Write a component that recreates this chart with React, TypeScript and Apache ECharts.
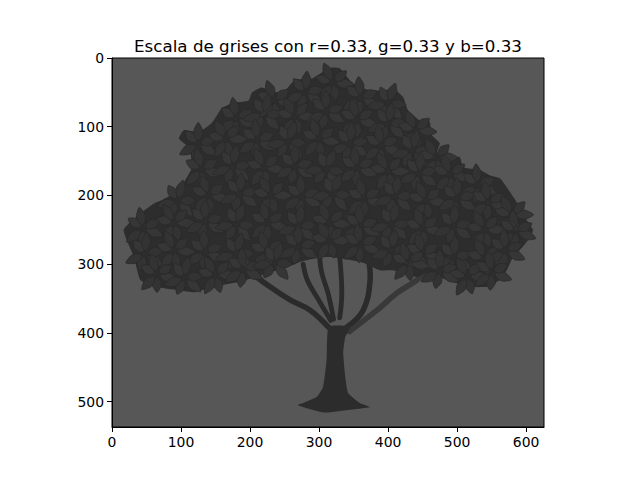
import React, { useEffect, useRef } from "react";
import * as echarts from "echarts";

const TITLE = "Escala de grises con r=0.33, g=0.33 y b=0.33";
const IMG_W = 626;
const IMG_H = 537;
const X_TICKS = [0, 100, 200, 300, 400, 500, 600];
const Y_TICKS = [0, 100, 200, 300, 400, 500];

// Canopy outline in image pixel coordinates (x, y)
const CANOPY: number[][] = [
  [17, 250], [48, 221], [62, 211], [72, 207], [97, 192], [106, 178], [116, 159],
  [112, 131], [97, 117], [104, 105], [126, 108], [145, 94], [159, 73], [174, 66],
  [198, 62], [203, 50], [217, 43], [236, 50], [251, 47], [265, 32], [290, 30],
  [309, 18], [319, 14], [330, 15], [349, 37], [374, 47], [398, 47], [407, 44],
  [422, 57], [429, 76], [446, 91], [461, 94], [461, 110], [475, 124], [471, 137],
  [494, 144], [504, 144], [509, 159], [533, 163], [548, 171], [562, 175],
  [572, 188], [591, 217], [601, 236], [610, 250], [606, 261], [595, 275],
  [581, 290], [572, 309], [562, 323], [543, 333], [514, 333], [494, 326],
  [475, 319], [456, 313], [442, 319], [422, 313], [407, 309], [388, 309],
  [364, 298], [345, 294], [320, 290], [301, 290], [272, 297], [251, 306],
  [228, 312], [207, 319], [184, 326], [145, 333], [120, 341], [97, 338],
  [62, 333], [41, 323], [32, 290],
];

// Trunk outline
const TRUNK: number[][] = [
  [314, 391], [311, 439], [306, 478], [297, 493], [277, 502], [269, 505],
  [280, 509], [306, 516], [320, 515], [345, 512], [374, 508], [359, 502],
  [342, 487], [338, 464], [335, 429], [338, 406], [345, 391],
];

// Branches (polylines)
const BRANCHES: number[][][] = [
  [[314, 392], [287, 367], [258, 352], [229, 333], [210, 319]],
  [[317, 382], [297, 348], [283, 323], [277, 300]],
  [[321, 380], [313, 342], [304, 313], [301, 290]],
  [[330, 378], [333, 342], [330, 290]],
  [[340, 392], [364, 367], [374, 323], [371, 290]],
  [[344, 398], [384, 367], [413, 342], [442, 323], [451, 313]],
];
const BRANCH_WIDTHS = [8, 7, 7, 7, 8, 8];
const BRANCH_LIGHT = [false, false, false, false, false, true];

// Leaf clusters: [x, y, rotation in degrees]
const LEAF_CLUSTERS: number[][] = [
  [235, 62, 10], [280, 50, 35], [320, 36, 5], [360, 58, 25], [400, 66, 50],
  [180, 88, 20], [220, 82, 45], [265, 85, 0], [310, 78, 30], [355, 90, 15], [400, 96, 40], [440, 105, 5],
  [125, 125, 30], [165, 118, 0], [210, 120, 25], [255, 122, 50], [300, 118, 10], [345, 125, 35],
  [390, 128, 20], [435, 135, 45], [470, 145, 0],
  [130, 162, 15], [175, 158, 40], [220, 160, 5], [265, 158, 30], [310, 162, 55], [355, 160, 20],
  [400, 165, 0], [445, 168, 35], [490, 170, 10], [530, 185, 25],
  [95, 208, 45], [140, 200, 10], [185, 198, 35], [230, 200, 0], [275, 202, 25], [320, 198, 50],
  [365, 205, 15], [410, 202, 40], [455, 208, 5], [500, 205, 30], [545, 210, 20], [580, 228, 0],
  [45, 248, 20], [90, 240, 0], [135, 238, 30], [180, 242, 50], [225, 240, 15], [270, 245, 40],
  [315, 240, 5], [360, 245, 25], [405, 242, 45], [450, 248, 10], [495, 245, 35], [540, 250, 0], [585, 252, 20],
  [48, 285, 35], [90, 280, 5], [135, 282, 25], [180, 285, 45], [225, 282, 10], [270, 275, 30],
  [315, 266, 0], [360, 272, 20], [405, 280, 40], [450, 285, 15], [495, 290, 35], [540, 292, 5], [570, 280, 25],
  [65, 315, 15], [105, 320, 40], [150, 316, 0], [190, 308, 25], [235, 298, 50], [430, 298, 10],
  [475, 310, 30], [515, 318, 0], [550, 312, 20],
];

export default function App() {
  const ref = useRef<HTMLDivElement>(null);
  useEffect(() => {
    document.body.style.margin = "0";
    if (!ref.current) return;
    const chart = echarts.init(ref.current, undefined, { renderer: "svg" });

    const polyItem = (pts: number[][], fill: string) => (params: any, api: any) => ({
      type: "polygon",
      shape: { points: pts.map((p) => api.coord(p)), smooth: 0.15 },
      style: { fill },
    });

    const series: any[] = [
      {
        type: "custom",
        name: "ramas",
        data: BRANCHES.map((_, i) => [i, 0]),
        renderItem: (params: any, api: any) => {
          const i = api.value(0);
          const s = api.size([1, 1]);
          return {
            type: "polyline",
            shape: { points: BRANCHES[i].map((p) => api.coord(p)), smooth: 0.4 },
            style: {
              stroke: BRANCH_LIGHT[i] ? "#393939" : "#2b2b2b",
              lineWidth: BRANCH_WIDTHS[i] * s[0],
              lineCap: "round",
              fill: null,
            },
          };
        },
        z: 2,
      },
      {
        type: "custom",
        name: "tronco",
        data: [[0, 0]],
        renderItem: polyItem(TRUNK, "#2c2c2c"),
        z: 3,
      },
      {
        type: "custom",
        name: "copa",
        data: [[0, 0]],
        renderItem: polyItem(CANOPY, "#2d2d2d"),
        z: 4,
      },
      {
        type: "custom",
        name: "hojas",
        data: LEAF_CLUSTERS,
        renderItem: (params: any, api: any) => {
          const c = api.coord([api.value(0), api.value(1)]);
          const rot = (api.value(2) * Math.PI) / 180;
          const s = api.size([1, 1]);
          const children: any[] = [];
          for (let k = 0; k < 6; k++) {
            const a = rot + (k * Math.PI) / 3 + (k % 2 ? 0.25 : 0);
            const L = (k % 2 ? 26 : 31) * s[0];
            const W = 13 * s[0];
            const dx = Math.cos(a);
            const dy = Math.sin(a);
            const pt = (t: number, w: number) => [
              c[0] + dx * t * L - dy * w * W,
              c[1] + dy * t * L + dx * w * W,
            ];
            children.push({
              type: "polygon",
              shape: {
                points: [pt(0.15, 0), pt(0.35, 0.4), pt(0.62, 0.5), pt(1, 0), pt(0.62, -0.5), pt(0.35, -0.4)],
                smooth: 0.2,
              },
              style: { fill: k % 3 === 0 ? "#363636" : "#333333", stroke: "#2a2a2a", lineWidth: 0.8 },
            });
          }
          return { type: "group", children };
        },
        z: 5,
      },
    ];

    chart.setOption({
      animation: false,
      backgroundColor: "#ffffff",
      title: {
        text: TITLE,
        left: 323,
        top: 32,
        textAlign: "center",
        textStyle: { fontFamily: "DejaVu Sans", fontSize: 16.7, fontWeight: "normal", color: "#000" },
      },
      grid: {
        left: 112,
        top: 58,
        width: 432,
        height: 369,
        show: true,
        backgroundColor: "#575757",
        borderColor: "#000",
        borderWidth: 1,
      },
      xAxis: {
        type: "value",
        min: 0,
        max: IMG_W,
        interval: 100,
        position: "bottom",
        axisLine: { show: true, onZero: false, lineStyle: { color: "#000", width: 1 } },
        axisTick: { show: true, length: 5, lineStyle: { color: "#000" } },
        axisLabel: {
          margin: 8,
          color: "#000",
          fontFamily: "DejaVu Sans",
          fontSize: 13.9,
          showMaxLabel: false,
          formatter: (v: number) => (X_TICKS.includes(v) ? String(v) : ""),
        },
        splitLine: { show: false },
      },
      yAxis: {
        type: "value",
        inverse: true,
        min: 0,
        max: IMG_H,
        interval: 100,
        position: "left",
        axisLine: { show: true, onZero: false, lineStyle: { color: "#000", width: 1 } },
        axisTick: { show: true, length: 5, lineStyle: { color: "#000" } },
        axisLabel: {
          margin: 8,
          color: "#000",
          fontFamily: "DejaVu Sans",
          fontSize: 13.9,
          showMaxLabel: false,
          formatter: (v: number) => (Y_TICKS.includes(v) ? String(v) : ""),
        },
        splitLine: { show: false },
      },
      series,
    });
    return () => chart.dispose();
  }, []);
  return <div ref={ref} style={{ width: 640, height: 480 }} />;
}
